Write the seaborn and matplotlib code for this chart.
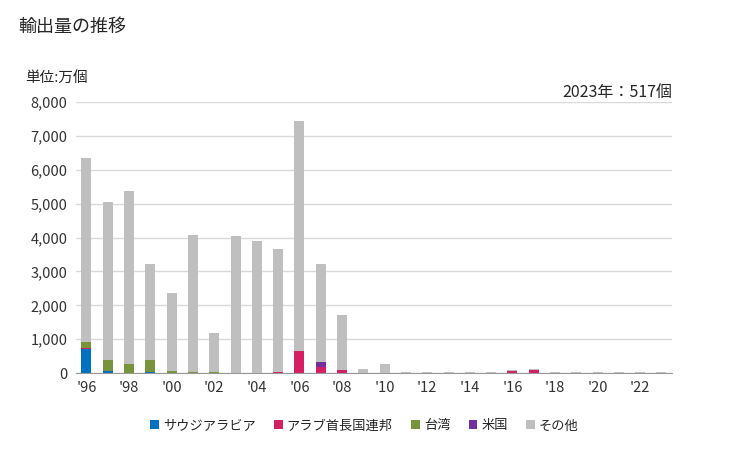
import matplotlib
matplotlib.use("Agg")
import matplotlib.pyplot as plt
from matplotlib.patches import Patch
import seaborn as sns
import pandas as pd
import numpy as np

years = list(range(1996, 2024))
saudi  = [710, 60, 0, 30, 0, 0, 0, 0, 0, 0, 0, 0, 0, 0, 0, 0, 0, 0, 0, 0, 0, 0, 0, 0, 0, 0, 0, 0]
uae    = [30, 0, 0, 0, 0, 0, 0, 0, 0, 30, 650, 180, 90, 0, 0, 0, 0, 0, 0, 0, 60, 95, 0, 0, 0, 0, 0, 0]
taiwan = [180, 330, 270, 350, 60, 30, 30, 0, 0, 0, 0, 0, 0, 0, 0, 0, 0, 0, 0, 0, 0, 0, 0, 0, 0, 0, 0, 0]
usa    = [0, 0, 0, 0, 0, 0, 0, 0, 0, 0, 0, 150, 0, 0, 0, 0, 0, 0, 0, 0, 0, 0, 0, 0, 0, 0, 0, 0]
total  = [6350, 5050, 5380, 3220, 2370, 4080, 1180, 4050, 3900, 3660, 7450, 3220, 1710, 120, 270,
          25, 25, 25, 25, 25, 80, 110, 25, 25, 25, 25, 25, 30]
other = [t - s - u - tw - us for t, s, u, tw, us in zip(total, saudi, uae, taiwan, usa)]

names = ["サウジアラビア", "アラブ首長国連邦", "台湾", "米国", "その他"]
colors = ["#0070C0", "#D42063", "#77933C", "#7030A0", "#BFBFBF"]
series = [saudi, uae, taiwan, usa, other]

labels = ["'" + str(y)[2:] for y in years]
cum = np.zeros(len(years))
cums = []
for s in series:
    cum = cum + np.array(s)
    cums.append(cum.copy())

sns.set_style("white")
plt.rcParams["font.family"] = ["Noto Sans CJK JP", "DejaVu Sans"]

fig = plt.figure(figsize=(7.29, 4.5), dpi=100)
ax = fig.add_axes([0.104, 0.171, 0.818, 0.602])

for i in range(len(series) - 1, -1, -1):
    d = pd.DataFrame({"year": labels, "v": cums[i]})
    sns.barplot(data=d, x="year", y="v", color=colors[i], width=0.47, ax=ax,
                saturation=1, linewidth=0, errorbar=None)

ax.set_xlim(-0.5, len(years) - 0.5)
ax.set_ylim(0, 8000)
ax.set_yticks(np.arange(0, 8001, 1000))
ax.set_yticklabels([f"{v:,}" for v in range(0, 8001, 1000)], fontsize=10.5)
ax.set_xticks(range(0, len(years), 2))
ax.set_xticklabels(labels[::2], fontsize=10.5)
ax.set_xlabel("")
ax.set_ylabel("")
ax.grid(axis="y", color="#D9D9D9", linewidth=1)
ax.set_axisbelow(True)
for side in ["left", "right", "top"]:
    ax.spines[side].set_visible(False)
ax.spines["bottom"].set_color("#999999")
ax.tick_params(axis="both", length=0, pad=6, colors="#333333")

fig.text(18 / 729, 1 - 27 / 450, "輸出量の推移", fontsize=13, va="center", ha="left")
fig.text(25 / 729, 1 - 78 / 450, "単位:万個", fontsize=10.5, va="center", ha="left")
fig.text(672 / 729, 1 - 92 / 450, "2023年：517個", fontsize=11.5, va="center", ha="right")

handles = [Patch(facecolor=c, edgecolor="none") for c in colors]
fig.legend(handles, names, loc="center", bbox_to_anchor=(0.5, 1 - 426 / 450), ncol=5,
           frameon=False, fontsize=9.5, handlelength=0.65, handleheight=0.65,
           handletextpad=0.3, columnspacing=1.4)

fig.savefig("out.png", dpi=100)
